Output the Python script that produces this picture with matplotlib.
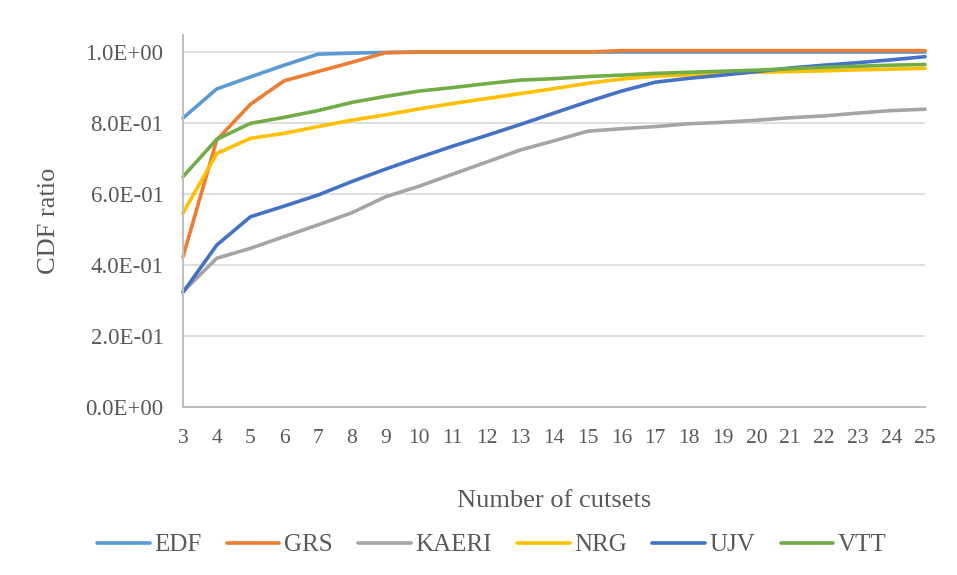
import matplotlib.pyplot as plt
from matplotlib.ticker import FuncFormatter

plt.rcParams['font.family'] = ['Liberation Serif', 'DejaVu Serif']

cutsets = list(range(3, 26))

edf = [0.814, 0.896, 0.930, 0.963, 0.994, 0.997, 0.999, 1.0, 1.0, 1.0, 1.0, 1.0,
       1.0, 1.0, 1.0, 1.0, 1.0, 1.0, 1.0, 1.0, 1.0, 1.0, 1.0]
grs = [0.423, 0.752, 0.853, 0.919, 0.945, 0.971, 0.998, 1.0, 1.0, 1.0, 1.0, 1.0,
       1.0, 1.004, 1.004, 1.004, 1.004, 1.004, 1.004, 1.004, 1.004, 1.004, 1.004]
kaeri = [0.325, 0.419, 0.447, 0.480, 0.513, 0.547, 0.592, 0.622, 0.656, 0.690, 0.724, 0.750,
         0.777, 0.784, 0.790, 0.798, 0.802, 0.808, 0.815, 0.820, 0.828, 0.835, 0.839]
nrg = [0.546, 0.714, 0.757, 0.771, 0.790, 0.808, 0.823, 0.840, 0.855, 0.869, 0.883, 0.897,
       0.912, 0.924, 0.932, 0.936, 0.940, 0.943, 0.945, 0.947, 0.950, 0.952, 0.954]
ujv = [0.323, 0.456, 0.536, 0.566, 0.597, 0.635, 0.670, 0.703, 0.735, 0.765, 0.796, 0.828,
       0.860, 0.890, 0.915, 0.926, 0.935, 0.945, 0.955, 0.963, 0.970, 0.978, 0.987]
vtt = [0.649, 0.754, 0.799, 0.816, 0.835, 0.858, 0.875, 0.890, 0.900, 0.911, 0.921, 0.925,
       0.931, 0.935, 0.940, 0.943, 0.946, 0.949, 0.953, 0.957, 0.960, 0.963, 0.965]

series = [
    ("EDF", edf, "#5B9BD5"),
    ("GRS", grs, "#ED7D31"),
    ("KAERI", kaeri, "#A5A5A5"),
    ("NRG", nrg, "#FFC000"),
    ("UJV", ujv, "#4472C4"),
    ("VTT", vtt, "#70AD47"),
]

text_color = "#595959"

fig = plt.figure(figsize=(9.57, 5.75), dpi=100)
ax = fig.add_axes([0.1912, 0.2922, 0.7754, 0.6469])

for name, values, color in series:
    ax.plot(cutsets, values, color=color, linewidth=2.6, label=name,
            solid_capstyle="round", clip_on=False)

ax.set_xlim(3, 25)
ax.set_ylim(0, 1.048)
ax.set_xticks(cutsets)
ax.set_yticks([0, 0.2, 0.4, 0.6, 0.8, 1.0])
ax.yaxis.set_major_formatter(FuncFormatter(lambda v, pos: f"{v:.1E}"))

ax.grid(axis="y", color="#D9D9D9", linewidth=1.2)
ax.set_axisbelow(True)
for side in ["top", "right"]:
    ax.spines[side].set_visible(False)
for side in ["left", "bottom"]:
    ax.spines[side].set_color("#BFBFBF")
    ax.spines[side].set_linewidth(1.4)

ax.tick_params(axis="both", length=0, colors=text_color)
ax.tick_params(axis="x", pad=16, labelsize=15.5)
ax.tick_params(axis="y", pad=14, labelsize=16.5)

ax.set_xlabel("Number of cutsets", fontsize=19, color=text_color, labelpad=30)
ax.set_ylabel("CDF ratio", fontsize=19, color=text_color, labelpad=18)

fig.legend(loc="center", bbox_to_anchor=(0.514, 0.052), ncol=6, frameon=False,
           fontsize=18, handlelength=2.1, handletextpad=0.2, columnspacing=1.0,
           labelcolor=text_color)

fig.savefig("out.png", dpi=100)
